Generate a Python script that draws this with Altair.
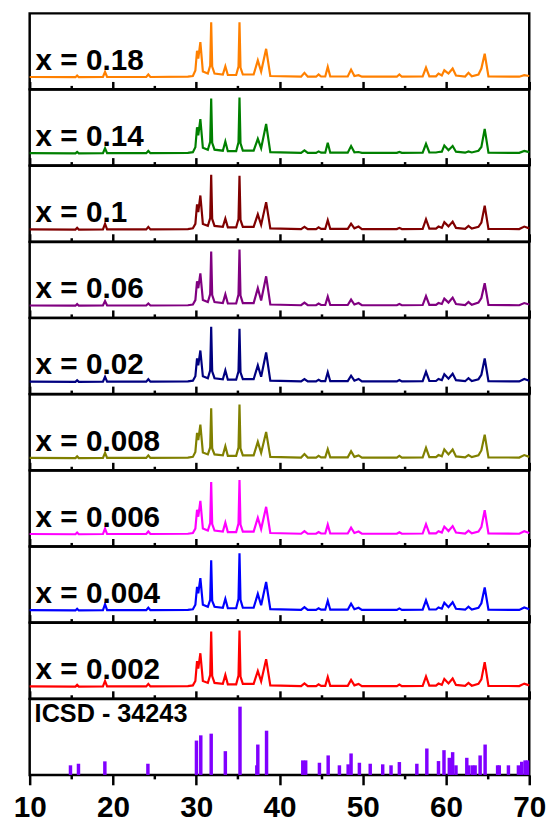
import altair as alt
import pandas as pd

# 2-theta sampling points shared by all diffraction patterns
two_theta = [
    10.0, 15.5, 15.7, 15.9, 18.8, 19.05, 19.3, 24.0, 24.25, 24.5,
    29.0, 29.6, 29.9, 30.1, 30.25, 30.5, 30.8,
    31.4, 31.68, 31.8, 31.92, 32.2,
    33.2, 33.5, 33.8,
    34.8, 35.08, 35.2, 35.32, 35.6,
    36.9, 37.4, 37.8, 38.4, 38.9,
    42.6, 43.0, 43.4, 44.4, 44.7, 45.0, 45.5, 45.8, 46.1,
    48.2, 48.6, 49.0, 49.5, 49.9, 54.1, 54.4, 54.7,
    57.2, 57.6, 58.0, 58.8, 59.1, 59.5, 59.8, 60.3, 60.8, 61.2,
    62.3, 62.7, 63.1, 63.9, 64.25, 64.65, 65.1, 68.8, 69.4, 70.0,
]

labels = ["x = 0.18", "x = 0.14", "x = 0.1", "x = 0.06", "x = 0.02",
          "x = 0.008", "x = 0.006", "x = 0.004", "x = 0.002"]
colors = ["#FF8000", "#008000", "#800000", "#800080", "#000080",
          "#808000", "#FF00FF", "#0000FF", "#FF0000"]

# intensities (a.u.) at the two_theta points
int_018 = [0.5, 0.3, 2, 0.3, 0.5, 5.7, 0.5, 0.5, 3, 0.5,
           0.8, 1.5, 7, 27, 19, 35.7, 6,
           4, 12, 55.7, 11, 4,
           3, 11.3, 2.5,
           2.5, 11, 55.7, 10, 3,
           3, 17.3, 6, 29, 1.5,
           0.8, 4.7, 0.8, 0.8, 3, 1, 1, 10.7, 1,
           1, 8, 1.5, 2.3, 0.8, 0.8, 3, 0.8,
           1, 10, 1.2, 1.2, 4, 2, 7.3, 4, 9, 2,
           1, 4.7, 1.2, 3, 9, 24, 1, 0.8, 2.3, 1.5]
int_014 = [0.5, 0.3, 1.8, 0.3, 0.5, 5.5, 0.5, 0.5, 2.8, 0.5,
           0.8, 1.5, 6.5, 26.7, 18.5, 35, 6,
           4, 12, 55.7, 11, 4,
           3, 12.3, 2.5,
           2.5, 11.5, 56.7, 10.5, 3,
           3, 15, 5.5, 30, 1.5,
           0.8, 3.3, 0.8, 0.8, 2.3, 1, 1, 11, 1,
           1, 7.7, 1.3, 1.7, 0.8, 0.8, 1.7, 0.8,
           1, 10, 1.2, 1.2, 1.7, 2, 8.3, 3.5, 7.7, 2,
           1, 2.3, 1.2, 3, 6.7, 25, 1, 0.8, 2.7, 1.5]
int_010 = [0.5, 0.3, 2, 0.3, 0.5, 6, 0.5, 0.5, 3, 0.5,
           0.8, 1.5, 6, 25.7, 18, 34.7, 6,
           4, 12, 55.7, 11, 4,
           3, 11.3, 2.5,
           2.5, 11, 54.7, 10, 3,
           3, 15.7, 5, 28, 1.5,
           0.8, 3, 0.8, 0.8, 2.5, 1, 1, 9.7, 1,
           1, 6.3, 1.5, 3.3, 0.8, 0.8, 2, 0.8,
           1, 10.7, 1.2, 1.2, 3.3, 2, 7.7, 3.5, 8.3, 2,
           1, 4, 1.2, 3, 7.3, 24.3, 1, 0.8, 3.3, 1.5]
int_006 = [0.5, 0.3, 2, 0.3, 0.5, 5, 0.5, 0.5, 2.5, 0.5,
           0.8, 1.5, 6, 25, 18, 33, 6,
           4, 12, 55, 11, 4,
           3, 11.8, 2.5,
           2.5, 11.5, 57, 10.5, 3,
           3, 18, 5.5, 30, 1.5,
           0.8, 3.5, 0.8, 0.8, 2.5, 1, 1, 9.5, 1,
           1, 6.5, 1.5, 3, 0.8, 0.8, 2, 0.8,
           1, 10, 1.2, 1.2, 3, 2, 7.5, 3.5, 8.5, 2,
           1, 4, 1.2, 3.5, 8, 23, 1, 0.8, 3, 1.5]
int_002 = [0.5, 0.3, 2, 0.3, 0.5, 5.5, 0.5, 0.5, 3, 0.5,
           0.8, 1.5, 6, 24, 17, 32, 6,
           4, 12, 56, 11, 4,
           3, 12, 2.5,
           2.5, 11, 54, 10, 3,
           3, 17, 5.5, 30, 1.5,
           0.8, 3.2, 0.8, 0.8, 2.5, 1, 1, 10, 1,
           1, 6.5, 1.5, 3.3, 0.8, 0.8, 2.2, 0.8,
           1, 10.5, 1.2, 1.2, 3.3, 2, 8, 3.5, 8.5, 2,
           1, 4, 1.2, 3, 7.5, 24, 1, 0.8, 3.2, 1.5]
int_0008 = [0.5, 0.3, 2, 0.3, 0.5, 5.5, 0.5, 0.5, 3, 0.5,
            0.8, 1.5, 6.5, 25.7, 18.5, 34, 6,
            4, 11, 50.7, 10, 4,
            3, 12.3, 2.5,
            2.5, 11, 54.3, 10, 3,
            3, 16.7, 5.5, 26.7, 1.5,
            0.8, 4.3, 0.8, 0.8, 2.5, 1, 1, 9.3, 1,
            1, 7.3, 1.5, 3, 0.8, 0.8, 2.5, 0.8,
            1, 10.7, 1.2, 1.2, 3.3, 2, 9, 4, 9, 2,
            1, 3.3, 1.2, 3, 8, 24, 1, 0.8, 3.3, 1.5]
int_0006 = [0.5, 0.3, 2, 0.3, 0.5, 6, 0.5, 0.5, 3, 0.5,
            0.8, 1.5, 6, 25, 18, 34, 6,
            4, 11.5, 53, 10.5, 4,
            3, 12, 2.5,
            2.5, 11, 55, 10, 3,
            3, 17, 5.5, 28, 1.5,
            0.8, 3.5, 0.8, 0.8, 2.5, 1, 1, 10, 1,
            1, 7, 1.5, 3, 0.8, 0.8, 2.3, 0.8,
            1, 10.5, 1.2, 1.2, 3.3, 2, 8, 3.5, 8.5, 2,
            1, 4, 1.2, 3, 7.5, 24.5, 1, 0.8, 3.3, 1.5]
int_0004 = [0.5, 0.3, 2, 0.3, 0.5, 6.5, 0.5, 0.5, 3, 0.5,
            0.8, 1.5, 6, 24, 17.5, 33, 6,
            4, 11, 51, 10, 4,
            3, 12, 2.5,
            2.5, 12, 58, 11, 3,
            3, 17, 5.5, 29, 1.5,
            0.8, 3.5, 0.8, 0.8, 2.5, 1, 1, 10, 1,
            1, 7, 1.5, 3, 0.8, 0.8, 2.3, 0.8,
            1, 10.5, 1.2, 1.2, 3.3, 2, 8, 3.5, 8.5, 2,
            1, 4, 1.2, 3, 7.5, 23.5, 1, 0.8, 3.3, 1.5]
int_0002 = [0.5, 0.3, 2, 0.3, 0.5, 6, 0.5, 0.5, 3, 0.5,
            0.8, 1.5, 6, 26, 18.5, 34, 6,
            4, 12, 56, 11, 4,
            3, 12, 2.5,
            2.5, 11.5, 57, 10.5, 3,
            3, 16, 5.5, 28, 1.5,
            0.8, 3.5, 0.8, 0.8, 2.5, 1, 1, 10, 1,
            1, 7, 1.5, 3, 0.8, 0.8, 2.3, 0.8,
            1, 10.5, 1.2, 1.2, 3.3, 2, 8, 3.5, 8.5, 2,
            1, 4, 1.2, 3, 7.5, 25, 1, 0.8, 3.3, 1.5]

patterns = [int_018, int_014, int_010, int_006, int_002,
            int_0008, int_0006, int_0004, int_0002]

# reference card ICSD 34243: line positions and relative intensities
icsd_pos = [14.9, 15.86, 19.03, 24.2, 30.03, 30.55, 31.8, 33.5, 35.26, 37.28,
            37.4, 38.45, 42.8, 43.15, 44.8, 45.85, 47.2, 48.25, 48.6, 49.6,
            50.9, 52.4, 53.4, 54.4, 56.5, 57.7, 59.1, 59.76, 60.4, 60.8,
            61.2, 62.5, 62.75, 63.2, 63.5, 64.1, 64.7, 66.2, 66.4, 67.5,
            68.7, 69.1, 69.5, 69.8]
icsd_int = [9.7, 11.3, 13.7, 11.3, 34.7, 40, 41.7, 24, 69, 9.7,
            30.7, 44.7, 14.7, 14.7, 12.3, 19.7, 9.7, 10.7, 21.7, 12.3,
            11.3, 10.7, 9.7, 13, 11.3, 26.7, 14, 25, 17.3, 23,
            9.7, 17.3, 9.7, 9.7, 9.7, 19.7, 30.7, 9.7, 9.7, 9.7,
            9.7, 13.3, 14.7, 14.7]

major_ticks = [10, 20, 30, 40, 50, 60, 70]
minor_ticks = [15, 25, 35, 45, 55, 65]

W = 505
H = 76.8
FONT = "Liberation Sans"
x_scale = alt.Scale(domain=[10, 70], nice=False, zero=False)


def inner_axis(values, size):
    # ticks drawn upward from the panel's bottom edge
    return alt.Axis(orient="top", offset=-H, values=values, tickSize=size,
                    tickWidth=2.5, tickColor="black", labels=False,
                    domain=False, grid=False, title=None)


def pattern_panel(label, color, values):
    df = pd.DataFrame({"two_theta": two_theta, "intensity": values})
    y_enc = alt.Y("intensity:Q", scale=alt.Scale(domain=[-12, H - 12], nice=False, zero=False), axis=None)
    trace = alt.Chart(df).mark_line(color=color, strokeWidth=2.2).encode(
        x=alt.X("two_theta:Q", scale=x_scale, axis=inner_axis(major_ticks, 8)),
        y=y_enc,
    )
    minor = alt.Chart(df).mark_line(opacity=0).encode(
        x=alt.X("two_theta:Q", scale=x_scale, axis=inner_axis(minor_ticks, 4)),
        y=y_enc,
    )
    text = alt.Chart(pd.DataFrame({"t": [label]})).mark_text(
        align="left", baseline="alphabetic", fontSize=30, fontWeight="bold",
        font=FONT, color="black",
    ).encode(text="t:N", x=alt.value(6), y=alt.value(57))
    return alt.layer(trace, minor, text).resolve_axis(x="independent").properties(width=W, height=H)


panels = [pattern_panel(l, c, v) for l, c, v in zip(labels, colors, patterns)]

icsd_df = pd.DataFrame({"two_theta": icsd_pos, "intensity": icsd_int})
stick_y = alt.Y("intensity:Q", scale=alt.Scale(domain=[0, H], nice=False), axis=None)
sticks = alt.Chart(icsd_df).mark_rule(color="#8000FF", strokeWidth=3.5).encode(
    x=alt.X("two_theta:Q", scale=x_scale,
            axis=alt.Axis(orient="bottom", values=major_ticks, tickSize=10, tickWidth=2.5,
                          tickColor="black", domain=False, grid=False, title=None,
                          labelFont=FONT, labelFontSize=30, labelFontWeight="bold",
                          labelColor="black", labelPadding=8, labelFlush=False)),
    y=stick_y,
    y2=alt.datum(0),
)
sticks_minor = alt.Chart(icsd_df).mark_rule(opacity=0).encode(
    x=alt.X("two_theta:Q", scale=x_scale,
            axis=alt.Axis(orient="bottom", values=minor_ticks, tickSize=4, tickWidth=2.5,
                          tickColor="black", labels=False, domain=False, grid=False,
                          title=None)),
    y=stick_y,
)
icsd_text = alt.Chart(pd.DataFrame({"t": ["ICSD - 34243"]})).mark_text(
    align="left", baseline="alphabetic", fontSize=25.5, fontWeight="bold",
    font=FONT, color="black",
).encode(text="t:N", x=alt.value(5), y=alt.value(23))
icsd_panel = alt.layer(sticks, sticks_minor, icsd_text).resolve_axis(x="independent").properties(width=W, height=H)

chart = alt.vconcat(*panels, icsd_panel, spacing=0, bounds="flush").properties(
    padding={"left": 12, "top": 7, "right": 5, "bottom": 5},
    background="white",
).configure_view(stroke="black", strokeWidth=2.5)

chart.save("out.html", embed_options={"renderer": "svg", "actions": False})
